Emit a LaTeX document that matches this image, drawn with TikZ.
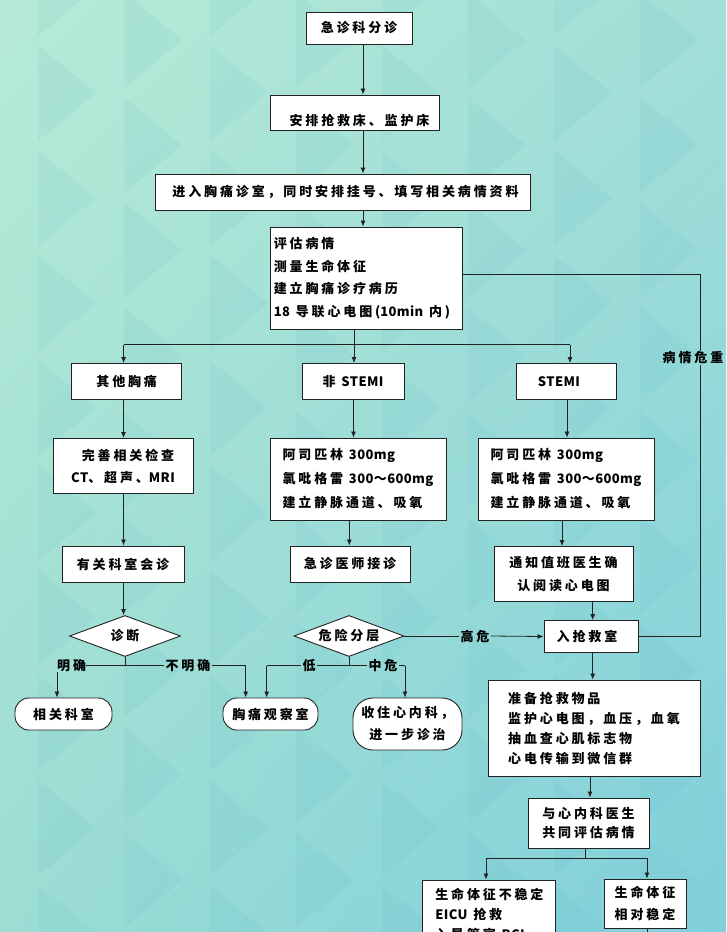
\documentclass[tikz,border=0pt]{standalone}
\usepackage{fontspec}
\setmainfont{Noto Sans CJK SC}[LetterSpace=22]
\newcommand{\lat}[1]{{\addfontfeature{LetterSpace=3}#1}}
\usetikzlibrary{arrows.meta,shapes.geometric,calc,shadings}
\definecolor{bgTL}{HTML}{B6EAD6}
\definecolor{bgTR}{HTML}{A2DFD8}
\definecolor{bgBL}{HTML}{9CDDD4}
\definecolor{bgBR}{HTML}{80CFDB}
\definecolor{tri}{HTML}{4FB0C4}
\definecolor{linec}{HTML}{222222}
\tikzset{
  box/.style={draw=linec, fill=white, line width=0.9pt, inner sep=2pt, text=black,
    font=\fontsize{13pt}{22pt}\selectfont\bfseries, align=center},
  lbox/.style={box, align=left},
  rbox/.style={box, rounded corners=14pt},
  dia/.style={draw=linec, fill=white, line width=0.9pt, diamond, aspect=2.7, inner sep=0pt,
    font=\fontsize{13pt}{15pt}\selectfont\bfseries},
  arr/.style={-{Latex[length=6pt,width=5pt]}, line width=0.8pt, draw=linec},
  ln/.style={line width=0.8pt, draw=linec},
  lbl/.style={inner sep=1pt, text=black, font=\fontsize{13pt}{15pt}\selectfont\bfseries},
}
\begin{document}
\begin{tikzpicture}[x=1pt,y=-1pt]
\useasboundingbox (0,0) rectangle (726,932);
\clip (0,0) rectangle (726,932);
\shade[upper left=bgTL, upper right=bgTR, lower left=bgBL, lower right=bgBR] (0,0) rectangle (726,932);
% faint triangle pattern
\foreach \cx in {0,...,8}{
  \foreach \ry in {0,...,9}{
    \pgfmathsetmacro{\xo}{38+86*\cx}
    \pgfmathsetmacro{\yo}{-60+105*\ry+52*mod(\cx,2)}
    \fill[tri, opacity=0.09] (\xo,\yo) -- (\xo+58,\yo+48) -- (\xo,\yo+96) -- cycle;
  }
}

% column coordinates
\coordinate (sp) at (363,0);
\coordinate (cA) at (123.5,0);
\coordinate (cB) at (353.5,0);
\coordinate (cBd) at (349.3,0);
\coordinate (cC) at (567,0);
\coordinate (cCd) at (562,0);
\coordinate (cR) at (592.7,0);
\coordinate (cJ) at (590,0);

% nodes
\node[box, minimum width=106, minimum height=32] (triage) at (359,28) {急诊科分诊};
\node[box, minimum width=169, minimum height=35] (bed) at (354.5,112.5) {};
\node[lbl] (bedtext) at (359.5,121) {安排抢救床、监护床};
\node[box, minimum width=375, minimum height=36] (room) at (342.5,192) {\hspace*{6pt}进入胸痛诊室，同时安排挂号、填写相关病情资料};
\node[lbox, minimum width=192, minimum height=102, font=\fontsize{13pt}{22.5pt}\selectfont\bfseries] (assess) at (366,278)
  {评估病情\\测量生命体征\\建立胸痛诊疗病历\\\lat{18} 导联心电图(\lat{10min} 内)\hspace*{8pt}};

\node[box, minimum width=110, minimum height=36] (other) at (126.7,381.5) {其他胸痛};
\node[box, minimum width=102, minimum height=36] (nstemi) at (353,381.5) {非 \lat{STEMI}};
\node[box, minimum width=100, minimum height=36] (stemi) at (566,381.5) {\lat{STEMI}\hspace*{14pt}};

\node[box, minimum width=140, minimum height=55] (exam) at (123,466) {\hspace*{10pt}完善相关检查\\\lat{CT}、超声、\lat{MRI}};
\node[lbox, minimum width=176, minimum height=82, font=\fontsize{13pt}{24pt}\selectfont\bfseries] (drugsN) at (358,479)
  {阿司匹林 \lat{300mg}\\氯吡格雷 \lat{300～600mg}\\建立静脉通道、吸氧};
\node[lbox, minimum width=176, minimum height=82, font=\fontsize{13pt}{24pt}\selectfont\bfseries] (drugsS) at (566,479)
  {阿司匹林 \lat{300mg}\\氯吡格雷 \lat{300～600mg}\\建立静脉通道、吸氧};

\node[box, minimum width=122, minimum height=36] (consult) at (123,564) {有关科室会诊};
\node[box, minimum width=120, minimum height=36] (doctor) at (350,564) {急诊医师接诊};
\node[box, minimum width=139, minimum height=55, font=\fontsize{13pt}{23pt}\selectfont\bfseries] (notify) at (563.5,574)
  {通知值班医生确\\认阅读心电图};

\node[dia, minimum width=111, minimum height=41] (diag) at (125,636) {诊断};
\node[dia, minimum width=110, minimum height=41] (risk) at (349,636) {危险分层};
\node[box, minimum width=94, minimum height=32] (rescue) at (591,636.5) {入抢救室\hspace*{8pt}};

\node[rbox, minimum width=97, minimum height=32] (dept) at (63.5,714) {相关科室};
\node[rbox, minimum width=95, minimum height=32] (observe) at (270.5,714) {胸痛观察室};
\node[box, rounded corners=20pt, minimum width=109, minimum height=52] (admit) at (407.5,724) {收住心内科，\\进一步诊治};

\node[lbox, minimum width=212, minimum height=96, font=\fontsize{13pt}{20pt}\selectfont\bfseries] (prepare) at (594,728)
  {准备抢救物品\\监护心电图，血压，血氧\\抽血查心肌标志物\\心电传输到微信群\hspace*{40pt}};
\node[box, minimum width=121, minimum height=50, font=\fontsize{13pt}{19pt}\selectfont\bfseries] (joint) at (588.5,823)
  {与心内科医生\\共同评估病情};
\node[lbox, minimum width=133, minimum height=68, font=\fontsize{13pt}{20pt}\selectfont\bfseries] (unstable) at (489.4,914)
  {生命体征不稳定\\\lat{EICU} 抢救\\入导管室 \lat{PCI}};
\node[box, minimum width=82, minimum height=49, font=\fontsize{13pt}{22pt}\selectfont\bfseries] (stable) at (645,903.5)
  {生命体征\\相对稳定};

% main spine
\draw[arr] (triage.south -| sp) -- (bed.north -| sp);
\draw[arr] (bed.south -| sp) -- (room.north -| sp);
\draw[arr] (room.south -| sp) -- (assess.north -| sp);

% branch bus
\coordinate (bus) at (354,344.6);
\coordinate (bL) at (123.6,344.6);
\coordinate (bR) at (570,344.6);
\draw[ln] (assess.south -| bus) -- (bus);
\draw[ln] (bL) -- (bR);
\draw[arr] (bL) -- (other.north -| bL);
\draw[arr] (bus) -- (nstemi.north -| bus);
\draw[arr] (bR) -- (stemi.north -| bR);

% left column
\draw[arr] (other.south -| cA) -- (exam.north -| cA);
\draw[arr] (exam.south -| cA) -- (consult.north -| cA);
\draw[arr] (consult.south -| cA) -- (diag.north -| cA);

% middle column
\draw[arr] (nstemi.south -| cB) -- (drugsN.north -| cB);
\draw[arr] (drugsN.south -| cBd) -- (doctor.north -| cBd);

% right column
\draw[arr] (stemi.south -| cC) -- (drugsS.north -| cC);
\draw[arr] (drugsS.south -| cCd) -- (notify.north -| cCd);
\draw[arr] (notify.south -| cR) -- (rescue.north -| cR);
\draw[arr] (rescue.south -| cR) -- (prepare.north -| cR);
\draw[arr] (prepare.south -| cJ) -- (joint.north -| cJ);

% diagnosis branches
\coordinate (dJ) at (125,665.7);
\coordinate (dR) at (245.7,665.7);
\node[lbl, anchor=west, inner sep=0pt] (ming) at (57,665.7) {明确};
\node[lbl] (buming) at (188,665.7) {不明确};
\draw[ln] (diag.south) -- (dJ);
\draw[ln] (ming.east) -- (buming.west);
\draw[ln] (buming.east) -- (dR);
\draw[arr] (ming.south west) -- (dept.north -| ming.south west);
\draw[arr] (dR) -- (observe.north -| dR);

% risk branches
\coordinate (rJ) at (349,665.7);
\coordinate (rL) at (266.7,665.7);
\coordinate (rR) at (405,665.7);
\node[lbl] (low) at (309,665.7) {低};
\node[lbl] (mid) at (383,665.7) {中危};
\draw[ln] (risk.south) -- (rJ);
\draw[ln] (rL) -- (low.west);
\draw[ln] (low.east) -- (mid.west);
\draw[ln] (mid.east) -- (rR);
\draw[arr] (rL) -- (observe.north -| rL);
\draw[arr] (rR) -- (admit.north -| rR);

% high risk
\node[lbl] (high) at (475,636) {高危};
\draw[ln] (risk.east) -- (high.west);
\draw[arr] (high.east) -- (rescue.west);

% critical condition loop
\coordinate (cTop) at (700,274);
\coordinate (cBot) at (700,636.5);
\node[lbl] (crit) at (693,358) {病情危重};
\draw[ln] (assess.east |- cTop) -- (cTop) -- (crit.north -| cTop);
\draw[ln] (crit.south -| cTop) -- (cBot) -- (rescue.east);

% joint evaluation branches
\coordinate (jJ) at (585.7,858);
\coordinate (jL) at (486,858);
\coordinate (jR) at (647,858);
\draw[ln] (joint.south -| jJ) -- (jJ);
\draw[ln] (jL) -- (jR);
\draw[arr] (jL) -- (unstable.north -| jL);
\draw[arr] (jR) -- (stable.north -| jR);
\coordinate (stEnd) at (647,940);
\draw[ln] (stable.south -| stEnd) -- (stEnd);
\end{tikzpicture}
\end{document}
